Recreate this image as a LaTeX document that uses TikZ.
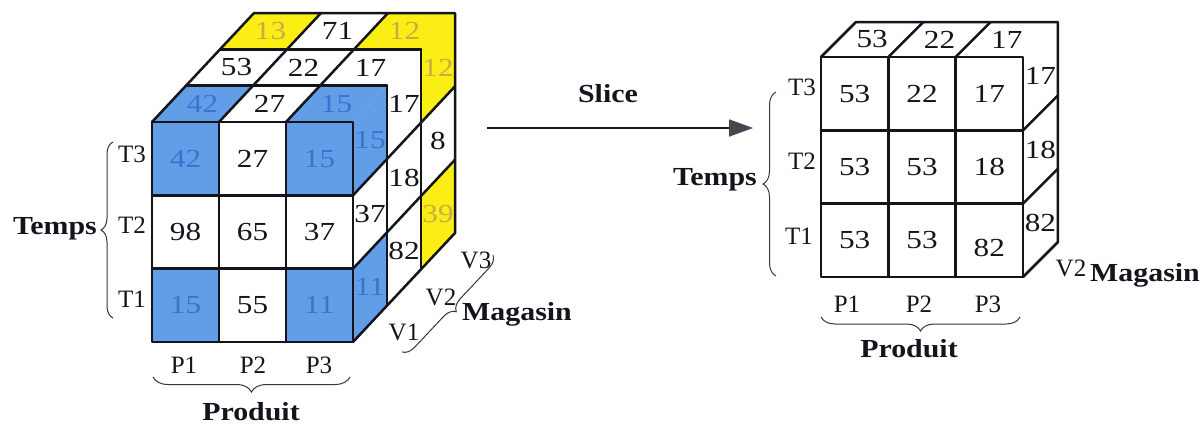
\documentclass[tikz,border=0pt]{standalone}
\usepackage{fontspec}
\setmainfont{Liberation Serif}
\usepackage{graphicx}
\usetikzlibrary{decorations.pathreplacing,arrows.meta}
\definecolor{cubeblue}{RGB}{98,158,232}
\definecolor{bluetext}{RGB}{62,112,205}
\definecolor{cubeyellow}{RGB}{250,238,20}
\definecolor{yellowtext}{RGB}{200,172,70}
\definecolor{ink}{RGB}{20,20,28}
\definecolor{arrowgray}{RGB}{70,70,80}
\newcommand\numtxt[1]{\scalebox{1.2}[1]{#1}}
\newcommand\boldtxt[1]{\scalebox{1.15}[1]{\bfseries #1}}
\tikzset{
  num/.style={font=\fontsize{26}{26}\selectfont, inner sep=0pt, text=ink},
  lab/.style={font=\fontsize{25}{25}\selectfont, inner sep=0pt, text=ink, anchor=base},
  ttl/.style={font=\fontsize{26}{26}\selectfont, inner sep=0pt, text=ink, anchor=base},
  cubeline/.style={draw=ink, line width=2.5pt, line join=round, line cap=round},
  brc/.style={draw=ink!85, line width=1pt, decorate, decoration={brace, amplitude=#1}},
  brc/.default=12,
}
\begin{document}
\begin{tikzpicture}[x=1pt,y=-1pt]
\useasboundingbox (0,0) rectangle (1203,429);
\fill[white] (0,0) rectangle (1203,429);

% ---------------- left cube ----------------
\begin{scope}[shift={(152,122)}, x={(67pt,0pt)}, y={(0pt,-73.33pt)}, z={(34pt,36.33pt)}]
  % front fills
  \foreach \i/\j in {0/0,2/0,0/2,2/2}
    \fill[cubeblue] (\i,\j,0)--(\i+1,\j,0)--(\i+1,\j+1,0)--(\i,\j+1,0)--cycle;
  % top fills
  \foreach \i/\k/\c in {0/0/cubeblue,2/0/cubeblue,0/2/cubeyellow,2/2/cubeyellow}
    \fill[\c] (\i,0,\k)--(\i+1,0,\k)--(\i+1,0,\k+1)--(\i,0,\k+1)--cycle;
  % right fills
  \foreach \k/\j/\c in {0/0/cubeblue,0/2/cubeblue,2/0/cubeyellow,2/2/cubeyellow}
    \fill[\c] (3,\j,\k)--(3,\j,\k+1)--(3,\j+1,\k+1)--(3,\j+1,\k)--cycle;
  % grid
  \draw[cubeline] (0,0,0)--(3,0,0)--(3,3,0)--(0,3,0)--cycle;
  \foreach \t in {1,2} {
    \draw[cubeline] (\t,0,0)--(\t,3,0);
    \draw[cubeline] (0,\t,0)--(3,\t,0);
    \draw[cubeline] (\t,0,0)--(\t,0,3);
    \draw[cubeline] (0,0,\t)--(3,0,\t);
    \draw[cubeline] (3,0,\t)--(3,3,\t);
    \draw[cubeline] (3,\t,0)--(3,\t,3);
  }
  \draw[cubeline] (0,0,0)--(0,0,3)--(3,0,3)--(3,3,3)--(3,3,0);
  % front texts
  \node[num,text=bluetext] (lf00) at (0.5,0.5,0) {\numtxt{42}};
  \node[num] (lf10) at (1.5,0.5,0) {\numtxt{27}};
  \node[num,text=bluetext] (lf20) at (2.5,0.5,0) {\numtxt{15}};
  \node[num] (lf01) at (0.5,1.5,0) {\numtxt{98}};
  \node[num] (lf11) at (1.5,1.5,0) {\numtxt{65}};
  \node[num] (lf21) at (2.5,1.5,0) {\numtxt{37}};
  \node[num,text=bluetext] (lf02) at (0.5,2.5,0) {\numtxt{15}};
  \node[num] (lf12) at (1.5,2.5,0) {\numtxt{55}};
  \node[num,text=bluetext] (lf22) at (2.5,2.5,0) {\numtxt{11}};
  % top texts
  \node[num,text=bluetext] (lt00) at (0.5,0,0.5) {\numtxt{42}};
  \node[num] (lt10) at (1.5,0,0.5) {\numtxt{27}};
  \node[num,text=bluetext] (lt20) at (2.5,0,0.5) {\numtxt{15}};
  \node[num] (lt01) at (0.5,0,1.5) {\numtxt{53}};
  \node[num] (lt11) at (1.5,0,1.5) {\numtxt{22}};
  \node[num] (lt21) at (2.5,0,1.5) {\numtxt{17}};
  \node[num,text=yellowtext] (lt02) at (0.5,0,2.5) {\numtxt{13}};
  \node[num] (lt12) at (1.5,0,2.5) {\numtxt{71}};
  \node[num,text=yellowtext] (lt22) at (2.5,0,2.5) {\numtxt{12}};
  % right texts
  \node[num,text=bluetext] (lr00) at (3,0.5,0.5) {\numtxt{15}};
  \node[num] (lr01) at (3,1.5,0.5) {\numtxt{37}};
  \node[num,text=bluetext] (lr02) at (3,2.5,0.5) {\numtxt{11}};
  \node[num] (lr10) at (3,0.5,1.5) {\numtxt{17}};
  \node[num] (lr11) at (3,1.5,1.5) {\numtxt{18}};
  \node[num] (lr12) at (3,2.5,1.5) {\numtxt{82}};
  \node[num,text=yellowtext] (lr20) at (3,0.5,2.5) {\numtxt{12}};
  \node[num] (lr21) at (3,1.5,2.5) {\numtxt{8}};
  \node[num,text=yellowtext] (lr22) at (3,2.5,2.5) {\numtxt{39}};
\end{scope}

% left labels
\node[lab] (lT3) at (132,162) {T3};
\node[lab] (lT2) at (132,233) {T2};
\node[lab] (lT1) at (132,307) {T1};
\node[ttl] (lTemps) at (55,234) {\boldtxt{Temps}};
\node[lab] (lP1) at (184,373) {P1};
\node[lab] (lP2) at (253,373) {P2};
\node[lab] (lP3) at (319,373) {P3};
\node[ttl] (lProduit) at (251,420) {\boldtxt{Produit}};
\node[lab] (lV1) at (404,340) {V1};
\node[lab] (lV2) at (441,305) {V2};
\node[lab] (lV3) at (476,268) {V3};
\node[ttl] (lMagasin) at (517,320) {\boldtxt{Magasin}};
\draw[brc=12] (113,318) -- (113,142);
\draw[brc=15] (350,377) -- (153,377);
\draw[brc=12] (493,255) -- (402,352);

% arrow
\node[ttl] (slice) at (608,102) {\boldtxt{Slice}};
\coordinate (arrS) at (487,128);
\coordinate (arrE) at (753,128);
\draw[draw=ink, line width=1.8pt, -{Triangle[length=24pt,width=17pt,color=arrowgray]}] (arrS) -- (arrE);

% ---------------- right cube ----------------
\begin{scope}[shift={(821,57)}, x={(67.33pt,0pt)}, y={(0pt,-73.33pt)}, z={(35pt,35pt)}]
  \draw[cubeline] (0,0,0)--(3,0,0)--(3,3,0)--(0,3,0)--cycle;
  \foreach \t in {1,2} {
    \draw[cubeline] (\t,0,0)--(\t,3,0);
    \draw[cubeline] (0,\t,0)--(3,\t,0);
    \draw[cubeline] (\t,0,0)--(\t,0,1);
    \draw[cubeline] (3,\t,0)--(3,\t,1);
  }
  \draw[cubeline] (0,0,0)--(0,0,1)--(3,0,1)--(3,3,1)--(3,3,0);
  \node[num] (rf00) at (0.5,0.5,0) {\numtxt{53}};
  \node[num] (rf10) at (1.5,0.5,0) {\numtxt{22}};
  \node[num] (rf20) at (2.5,0.5,0) {\numtxt{17}};
  \node[num] (rf01) at (0.5,1.5,0) {\numtxt{53}};
  \node[num] (rf11) at (1.5,1.5,0) {\numtxt{53}};
  \node[num] (rf21) at (2.5,1.5,0) {\numtxt{18}};
  \node[num] (rf02) at (0.5,2.5,0) {\numtxt{53}};
  \node[num] (rf12) at (1.5,2.5,0) {\numtxt{53}};
  \node[num] (rf22) at (2.5,2.6,0) {\numtxt{82}};
  \node[num] (rt0) at (0.5,0,0.5) {\numtxt{53}};
  \node[num] (rt1) at (1.5,0,0.5) {\numtxt{22}};
  \node[num] (rt2) at (2.5,0,0.5) {\numtxt{17}};
  \node[num] (rr0) at (3,0.5,0.5) {\numtxt{17}};
  \node[num] (rr1) at (3,1.5,0.5) {\numtxt{18}};
  \node[num] (rr2) at (3,2.5,0.5) {\numtxt{82}};
\end{scope}

% right labels
\node[lab] (rT3) at (802,95) {T3};
\node[lab] (rT2) at (802,169) {T2};
\node[lab] (rT1) at (799,244) {T1};
\node[ttl] (rTemps) at (715,185) {\boldtxt{Temps}};
\draw[brc=13] (776,276) -- (776,92);
\node[lab] (rP1) at (847,312) {P1};
\node[lab] (rP2) at (919,312) {P2};
\node[lab] (rP3) at (988,312) {P3};
\draw[brc=14] (1020,317) -- (821,317);
\node[ttl] (rProduit) at (909,357) {\boldtxt{Produit}};
\node[lab] (rV2) at (1071,276) {V2};
\node[ttl] (rMagasin) at (1145,281) {\boldtxt{Magasin}};
\end{tikzpicture}
\end{document}
